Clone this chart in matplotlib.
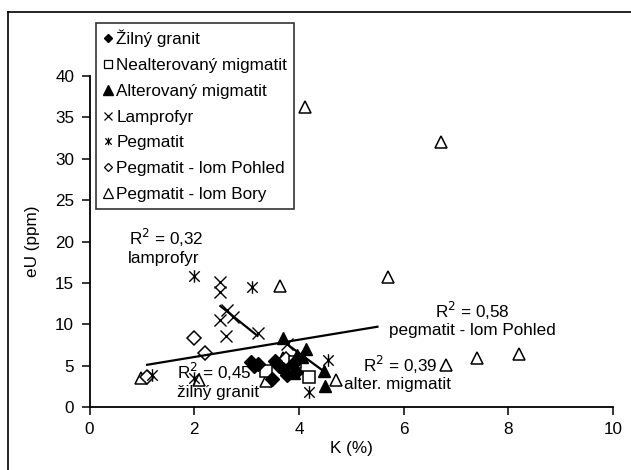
import numpy as np
import matplotlib
matplotlib.use("Agg")
import matplotlib.pyplot as plt
from matplotlib.path import Path
from matplotlib.lines import Line2D

plt.rcParams["font.family"] = ["Liberation Sans", "DejaVu Sans"]
fs = 12.3

# data
zilny_K = [3.08, 3.15, 3.22, 3.55, 3.62, 3.70, 3.78, 3.48, 3.88, 3.95]
zilny_eU = [5.4, 5.0, 5.2, 5.6, 5.0, 4.6, 3.9, 3.4, 5.2, 4.2]

nealt_K = [3.37, 3.92, 4.2]
nealt_eU = [4.4, 5.4, 3.6]

alter_K = [3.69, 3.97, 4.13, 3.9, 4.47, 4.5, 4.05]
alter_eU = [8.3, 6.3, 7.0, 4.1, 4.3, 2.5, 6.0]

lampro_K = [2.5, 2.5, 2.5, 2.63, 2.75, 2.6, 3.21, 3.78]
lampro_eU = [15.1, 13.9, 10.5, 11.7, 10.9, 8.6, 8.9, 7.6]

pegm_K = [1.2, 2.0, 2.0, 3.1, 4.55, 4.2]
pegm_eU = [3.9, 15.8, 3.5, 14.5, 5.7, 1.8]

pohled_K = [1.1, 2.0, 2.2, 3.75]
pohled_eU = [3.6, 8.3, 6.5, 5.8]

bory_K = [0.99, 2.1, 3.37, 3.7, 4.7, 3.63, 4.11, 6.71, 5.70, 6.81, 7.40, 8.21]
bory_eU = [3.5, 3.3, 3.2, 5.9, 3.3, 14.6, 36.3, 32.0, 15.7, 5.1, 5.9, 6.4]

# trend lines (end points)
fit_pohled_K = [1.1, 5.5]
fit_pohled_eU = [5.1, 9.7]
fit_lampro_K = [2.5, 3.21]
fit_lampro_eU = [12.2, 8.6]
fit_alter_K = [3.75, 4.5]
fit_alter_eU = [7.7, 4.2]

# excel-like asterisk: x with a vertical bar
star = Path([(-1, -1), (1, 1), (-1, 1), (1, -1), (0, -1.2), (0, 1.2)],
            [Path.MOVETO, Path.LINETO, Path.MOVETO, Path.LINETO, Path.MOVETO, Path.LINETO])

fig = plt.figure(figsize=(6.31, 4.70), dpi=100)
ax = fig.add_axes([89.5/631, 63/470, (613-89.5)/631, (407-76)/470])

k = dict(linestyle="none", color="black")
ax.plot(bory_K, bory_eU, marker="^", ms=9, mfc="white", mew=1.1, **k)
ax.plot(pohled_K, pohled_eU, marker="D", ms=7, mfc="white", mew=1.1, **k)
ax.plot(pegm_K, pegm_eU, marker=star, ms=9, mew=1.0, **k)
ax.plot(lampro_K, lampro_eU, marker="x", ms=8, mew=1.0, **k)
ax.plot(nealt_K, nealt_eU, marker="s", ms=8, mfc="white", mew=1.1, **k)
ax.plot(zilny_K, zilny_eU, marker="D", ms=7, **k)
ax.plot(alter_K, alter_eU, marker="^", ms=9, **k)

for xs, ys in [(fit_pohled_K, fit_pohled_eU), (fit_lampro_K, fit_lampro_eU), (fit_alter_K, fit_alter_eU)]:
    ax.plot(xs, ys, color="black", lw=1.6)

ax.set_xlim(0, 10)
ax.set_ylim(0, 40)
ax.set_xticks(np.arange(0, 11, 2))
ax.set_yticks(np.arange(0, 41, 5))
ax.spines["top"].set_visible(False)
ax.spines["right"].set_visible(False)
ax.tick_params(direction="out", length=6, width=1.1, labelsize=fs, pad=5)
ax.spines["left"].set_linewidth(1.3)
ax.spines["bottom"].set_linewidth(1.3)
ax.set_xlabel("K (%)", fontsize=fs, labelpad=3)
ax.set_ylabel("eU (ppm)", fontsize=fs, labelpad=11)

tx = dict(fontsize=fs, va="center", ha="left")
ax.text(0.76, 20.4, "R$^2$ = 0,32", **tx)
ax.text(0.74, 18.0, "lamprofyr", **tx)
ax.text(1.68, 4.2, "R$^2$ = 0,45", **tx)
ax.text(1.68, 1.7, "žilný granit", **tx)
ax.text(6.6, 11.6, "R$^2$ = 0,58", **tx)
ax.text(5.72, 9.3, "pegmatit - lom Pohled", **tx)
ax.text(5.22, 5.1, "R$^2$ = 0,39", **tx)
ax.text(4.86, 2.7, "alter. migmatit", **tx)

handles = [
    Line2D([], [], marker="D", ms=4.5, **k),
    Line2D([], [], marker="s", ms=5.5, mfc="white", mew=0.9, **k),
    Line2D([], [], marker="^", ms=6.5, **k),
    Line2D([], [], marker="x", ms=5.5, mew=0.9, **k),
    Line2D([], [], marker=star, ms=5.5, mew=0.9, **k),
    Line2D([], [], marker="D", ms=4.5, mfc="white", mew=0.9, **k),
    Line2D([], [], marker="^", ms=6.5, mfc="white", mew=0.9, **k),
]
labels = ["Žilný granit", "Nealterovaný migmatit", "Alterovaný migmatit", "Lamprofyr",
          "Pegmatit", "Pegmatit - lom Pohled", "Pegmatit - lom Bory"]
leg = fig.legend(handles, labels, loc="upper left", bbox_to_anchor=(96/631, 1 - 23/470),
                 fontsize=fs, frameon=True, fancybox=False, edgecolor="black",
                 handlelength=0.6, handletextpad=0.2, labelspacing=0.63, borderpad=0.4,
                 borderaxespad=0)
leg.get_frame().set_linewidth(1.2)

# outer frame (only top and left visible in the crop)
fig.add_artist(Line2D([8/631, 1], [1 - 12/470, 1 - 12/470], color="black", lw=1.2))
fig.add_artist(Line2D([8/631, 8/631], [0, 1 - 12/470], color="black", lw=1.2))

fig.savefig("out.png", dpi=100)
